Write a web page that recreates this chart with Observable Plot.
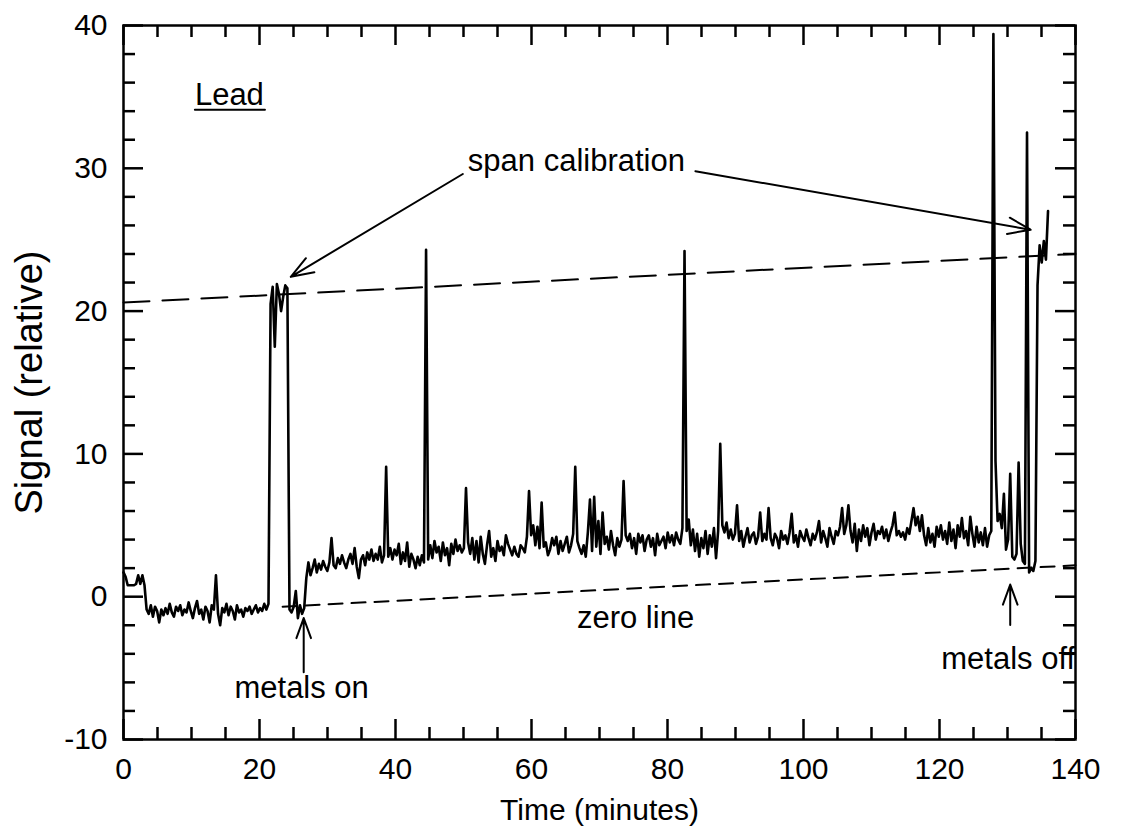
<!DOCTYPE html>
<html><head><meta charset="utf-8">
<script src="https://cdn.jsdelivr.net/npm/d3@7"></script>
<script src="https://cdn.jsdelivr.net/npm/@observablehq/plot@0.6"></script>
<style>
html,body{margin:0;padding:0;background:#fff;}
#chart svg{display:block;}
</style></head><body><div id="chart"></div>
<script>
// Sampling interval of the recorded trace (minutes)
const sampleStep = 0.309;
// Lead signal (relative), one value per sample starting at t = 0
const signal = [
  1.7, 1.4, 0.8, 0.8, 0.8, 0.8, 0.9, 1.5, 0.9, 1.5,
  0.8, -0.9, -1.2, -0.6, -1.4, -0.7, -1.0, -1.8, -0.9, -1.3,
  -0.8, -1.2, -0.5, -1.1, -1.4, -0.7, -1.0, -0.6, -1.3, -0.9,
  -1.1, -0.4, -1.0, -1.5, -0.8, -0.3, -1.2, -0.9, -1.6, -0.7,
  -1.0, -1.8, -0.6, -0.9, 1.5, -1.2, -2.0, -0.8, -1.1, -0.5,
  -1.3, -0.7, -1.0, -1.6, -0.6, -1.1, -0.9, -1.4, -0.8, -1.0,
  -0.7, -1.2, -0.9, -0.6, -1.1, -0.8, -1.0, -0.5, -0.9, -0.5,
  20.5, 21.7, 17.5, 21.9, 21.2, 20.0, 21.0, 21.8, 21.6, -0.9,
  -1.1, -0.7, 0.4, -1.5, -0.6, -1.2, -0.8, 1.3, 2.4, 1.5,
  2.0, 2.6, 1.7, 2.3, 1.9, 2.5, 2.1, 1.8, 2.4, 4.1,
  2.2, 2.0, 2.7, 2.3, 2.9, 2.4, 2.0, 2.6, 3.0, 2.3,
  3.4, 2.1, 1.3, 2.6, 2.9, 2.2, 3.1, 2.6, 3.3, 2.5,
  3.0, 2.6, 3.5, 2.4, 2.9, 9.1, 2.8, 3.4, 2.6, 3.3,
  2.9, 3.7, 2.3, 3.1, 2.5, 3.8, 2.1, 3.0, 2.6, 2.0,
  2.8, 2.2, 2.9, 2.4, 24.3, 2.6, 3.6, 2.7, 3.9, 3.1,
  3.5, 2.5, 3.8, 2.9, 3.4, 2.2, 3.7, 3.0, 4.0, 3.2,
  3.6, 3.1, 3.4, 7.6, 3.8, 3.0, 4.1, 2.6, 3.9, 2.4,
  4.2, 3.0, 2.3, 3.6, 4.6, 2.8, 3.4, 2.5, 3.9, 3.2,
  3.5, 2.9, 4.3, 3.7, 3.3, 2.9, 3.5, 3.0, 2.8, 3.6,
  3.4, 3.1, 4.2, 7.4, 4.3, 5.0, 3.6, 4.9, 3.4, 6.6,
  3.5, 3.8, 2.9, 3.3, 4.1, 3.6, 4.2, 3.0, 3.9, 3.2,
  3.7, 4.2, 3.1, 3.6, 4.4, 9.1, 3.9, 3.4, 3.0, 3.6,
  2.8, 4.5, 6.8, 3.2, 7.0, 3.5, 5.3, 3.0, 5.9, 3.7,
  4.2, 3.3, 4.6, 3.6, 2.9, 4.1, 3.5, 4.0, 8.1, 4.3,
  3.9, 4.4, 3.4, 4.1, 3.0, 4.4, 3.8, 4.3, 3.2, 4.0,
  4.3, 3.5, 4.1, 2.9, 4.4, 3.6, 3.9, 4.2, 3.4, 4.5,
  3.8, 4.3, 3.6, 4.5, 4.0, 3.7, 4.8, 24.2, 4.6, 5.4,
  3.6, 4.7, 3.2, 4.4, 2.8, 4.1, 3.4, 4.6, 3.0, 4.3,
  3.5, 4.8, 2.7, 4.6, 10.7, 5.0, 4.5, 5.2, 4.1, 4.7,
  4.0, 4.4, 6.4, 3.9, 4.6, 3.5, 4.2, 4.8, 3.8, 4.3,
  4.5, 3.7, 4.2, 5.9, 3.9, 4.4, 4.0, 6.2, 4.1, 3.6,
  4.4, 4.1, 3.4, 4.6, 4.0, 4.3, 3.7, 4.5, 5.8, 3.8,
  4.3, 3.5, 4.6, 4.2, 3.9, 4.7, 4.1, 3.6, 4.4, 4.0,
  4.5, 5.3, 3.8, 4.6, 4.1, 3.5, 4.8, 4.2, 3.7, 4.6,
  4.3, 4.9, 6.2, 4.4, 5.0, 6.4, 4.6, 3.8, 5.1, 3.2,
  4.7, 3.9, 5.0, 4.2, 4.8, 3.6, 4.5, 5.1, 4.0, 4.6,
  4.4, 4.9, 4.1, 4.7, 3.9, 4.5, 5.0, 5.9, 4.3, 4.6,
  4.2, 4.5, 4.0, 4.8, 4.4, 5.3, 6.2, 5.0, 5.6, 4.6,
  5.7, 4.3, 3.6, 4.8, 3.8, 4.4, 3.5, 4.9, 4.2, 5.0,
  4.0, 4.6, 3.7, 5.2, 3.9, 4.7, 3.4, 5.0, 4.2, 5.5,
  4.1, 4.6, 3.6, 5.6, 4.4, 3.5, 4.9, 3.8, 4.5, 3.6,
  4.8, 3.5, 4.3, 4.6, 39.4, 9.5, 5.3, 5.8, 4.8, 7.2,
  3.3, 4.0, 8.6, 2.8, 2.6, 3.0, 9.4, 3.7, 2.5, 2.3,
  32.5, 1.7, 2.0, 1.8, 2.5, 21.8, 24.6, 23.4, 24.9, 23.6,
  27.0
];

// Reference lines [time, signal]
const spanLine = [[0, 20.6], [140, 24.0]];
const zeroLine = [[23.4, -0.7], [140, 2.2]];

// Axis ticks
const xMajor = [0, 20, 40, 60, 80, 100, 120, 140];
const xMinor = [5, 10, 15, 25, 30, 35, 45, 50, 55, 65, 70, 75, 85, 90, 95, 105, 110, 115, 125, 130, 135];
const yMajor = [-10, 0, 10, 20, 30, 40];
const yMinor = [-8, -6, -4, -2, 2, 4, 6, 8, 12, 14, 16, 18, 22, 24, 26, 28, 32, 34, 36, 38];

// Annotations
const labels = [
  {text: "span calibration", t: 66.6, v: 30.5},
  {text: "zero line", t: 75.3, v: -1.5},
  {text: "metals on", t: 26.2, v: -6.4},
  {text: "metals off", t: 130.1, v: -4.4}
];
const spanArrows = [
  {t1: 49.9, v1: 29.6, t2: 24.6, v2: 22.4},
  {t1: 84.1, v1: 29.8, t2: 133.4, v2: 25.7}
];
// vertical pointers: tail is the line's far anchor, the visible shaft is inset from it
const metalArrows = [
  {t1: 26.5, v1: -7.96, t2: 26.5, v2: -1.5},
  {t1: 130.4, v1: -4.65, t2: 130.4, v2: 0.85}
];
const panelTitle = [{text: "Lead", t: 10.5, v: 35.1}];
const underline = [[10.5, 34.1], [20.8, 34.1]];

const trace = signal.map((v, i) => ({time: i * sampleStep, value: v}));

const FONT = "'Liberation Sans', Arial, Helvetica, sans-serif";
const M = {left: 123, right: 58, top: 25, bottom: 89};
const plotH = 828 - M.top - M.bottom;
const plotW = 1133 - M.left - M.right;

const chart = Plot.plot({
  width: 1133,
  height: 828,
  marginLeft: M.left,
  marginRight: M.right,
  marginTop: M.top,
  marginBottom: M.bottom,
  style: {fontFamily: FONT, fontSize: "30px", background: "white", color: "black", overflow: "visible"},
  x: {domain: [0, 140]},
  y: {domain: [-10, 40]},
  marks: [
    // tick labels
    Plot.axisX({anchor: "bottom", ticks: xMajor, tickSize: 0, tickPadding: 18, tickFormat: d => String(d), label: null, fontSize: 30}),
    Plot.axisY({anchor: "left", ticks: yMajor, tickSize: 0, tickPadding: 16, tickFormat: d => String(d), label: null, fontSize: 30}),
    // inward ticks on all four sides
    Plot.ruleX(xMajor, {x: d => d, insetTop: plotH - 20, strokeWidth: 2.5}),
    Plot.ruleX(xMinor, {x: d => d, insetTop: plotH - 12, strokeWidth: 2.5}),
    Plot.ruleX(xMajor, {x: d => d, insetBottom: plotH - 20, strokeWidth: 2.5}),
    Plot.ruleX(xMinor, {x: d => d, insetBottom: plotH - 12, strokeWidth: 2.5}),
    Plot.ruleY(yMajor, {y: d => d, insetRight: plotW - 20, strokeWidth: 2.5}),
    Plot.ruleY(yMinor, {y: d => d, insetRight: plotW - 12, strokeWidth: 2.5}),
    Plot.ruleY(yMajor, {y: d => d, insetLeft: plotW - 20, strokeWidth: 2.5}),
    Plot.ruleY(yMinor, {y: d => d, insetLeft: plotW - 12, strokeWidth: 2.5}),
    Plot.frame({strokeWidth: 2.5}),
    // dashed reference lines
    Plot.line(spanLine, {x: d => d[0], y: d => d[1], stroke: "black", strokeWidth: 2, strokeDasharray: "26,13"}),
    Plot.line(zeroLine, {x: d => d[0], y: d => d[1], stroke: "black", strokeWidth: 2, strokeDasharray: "14,9"}),
    // signal
    Plot.line(trace, {x: "time", y: "value", stroke: "black", strokeWidth: 2.6, strokeLinejoin: "round"}),
    // annotations
    Plot.arrow(spanArrows, {x1: "t1", y1: "v1", x2: "t2", y2: "v2", stroke: "black", strokeWidth: 2, headLength: 18, headAngle: 40}),
    Plot.arrow(metalArrows, {x1: "t1", y1: "v1", x2: "t2", y2: "v2", stroke: "black", strokeWidth: 2, headLength: 16, headAngle: 40, insetStart: 38}),
    Plot.text(labels, {x: "t", y: "v", text: "text", fontSize: 31, fill: "black"}),
    Plot.text(panelTitle, {x: "t", y: "v", text: "text", textAnchor: "start", fontSize: 31, fill: "black"}),
    Plot.line(underline, {x: d => d[0], y: d => d[1], stroke: "black", strokeWidth: 2}),
    // axis titles
    Plot.text(["Time (minutes)"], {frameAnchor: "bottom", dy: 80, text: d => d, fontSize: 30, fill: "black"}),
    Plot.text(["Signal (relative)"], {frameAnchor: "left", dx: -94, rotate: -90, textAnchor: "middle", text: d => d, fontSize: 38, fill: "black"})
  ]
});
document.getElementById("chart").appendChild(chart);
</script>
</body></html>
